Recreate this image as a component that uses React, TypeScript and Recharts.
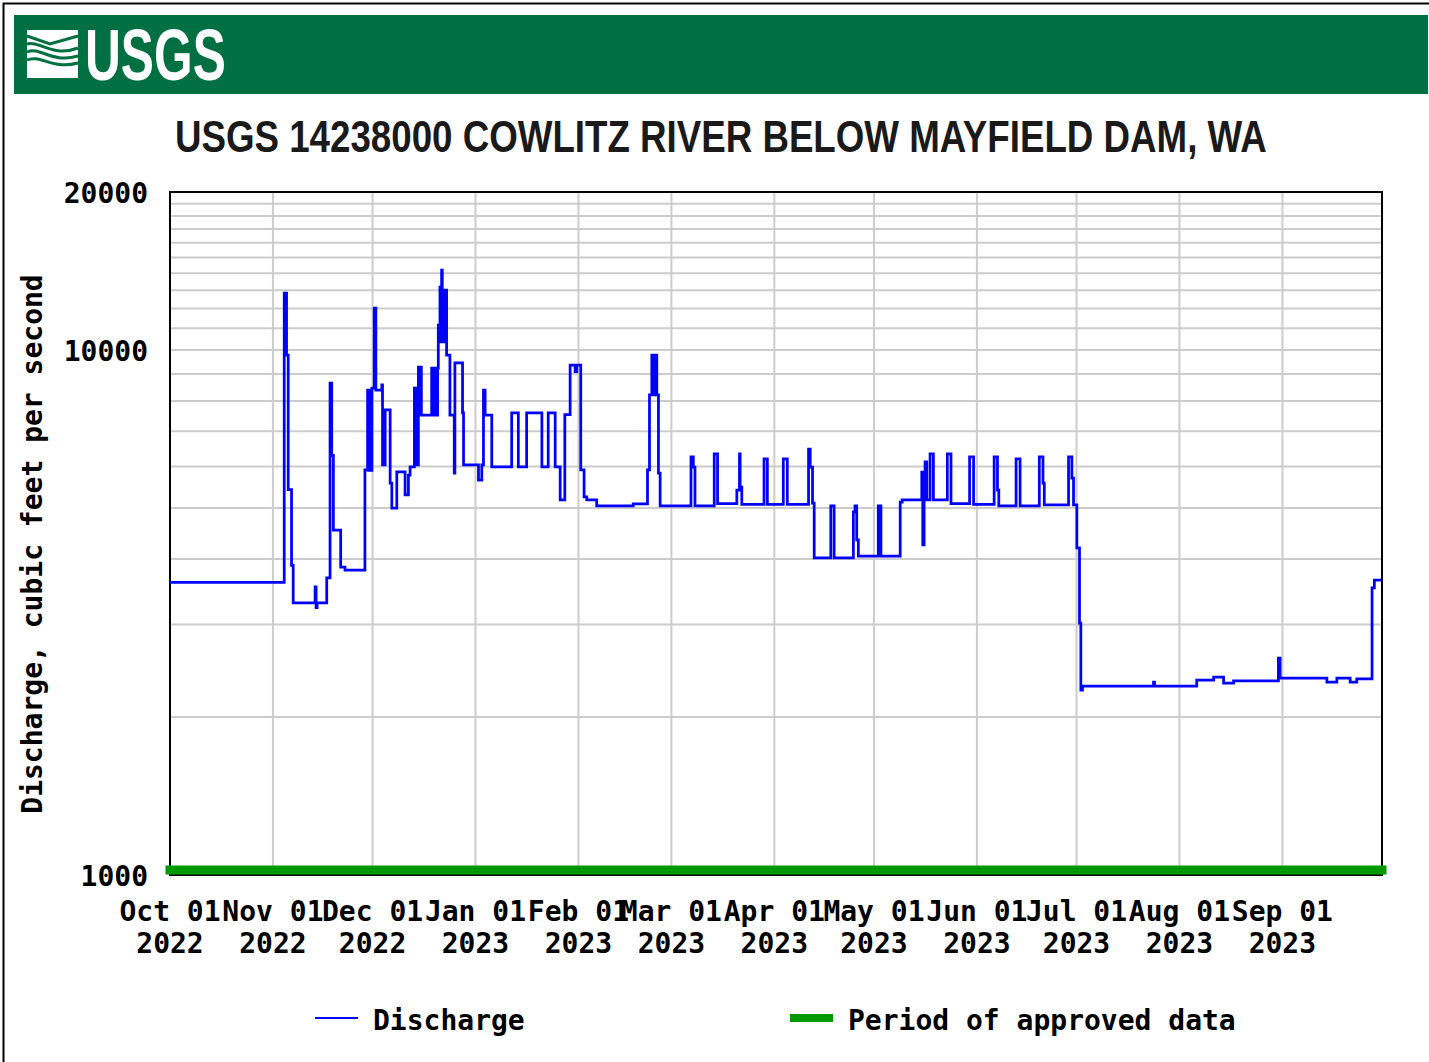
import React from "react";
import { LineChart, Line, XAxis, YAxis, CartesianGrid, ReferenceArea, Legend } from "recharts";

// days since 01 Oct 2022 at each month start
const monthTicks = [0, 31, 61, 92, 123, 151, 182, 212, 243, 273, 304, 335, 365];
const monthNames = ["Oct", "Nov", "Dec", "Jan", "Feb", "Mar", "Apr", "May", "Jun", "Jul", "Aug", "Sep"];
const monthYears = ["2022", "2022", "2022", "2023", "2023", "2023", "2023", "2023", "2023", "2023", "2023", "2023"];

const gridValues = [
  1000, 2000, 3000, 4000, 5000, 6000, 7000, 8000, 9000, 10000,
  11000, 12000, 13000, 14000, 15000, 16000, 17000, 18000, 19000, 20000,
];
const labelledValues = [1000, 10000, 20000];

// discharge trace (day since 01 Oct 2022, cfs)
const dischargeDay = [
  0, 34.4, 35.1, 35.6, 36.6, 37.1, 43.7, 44.0, 44.3, 47.2, 48.2, 48.7, 49.2, 51.4, 52.7,
  58.7, 59.5, 59.8, 60.1, 60.4, 60.8, 61.5, 62.0, 63.8, 64.0, 64.8, 66.3, 66.8, 68.3, 70.8,
  71.8, 72.3, 73.6, 73.9, 74.2, 74.5, 74.8, 75.1, 75.4, 75.7, 78.8, 79.1, 79.4, 79.7, 80.0,
  80.3, 80.6, 80.8, 81.3, 81.6, 81.8, 82.0, 82.3, 82.6, 83.0, 83.3, 84.3, 85.6, 85.8, 88.1,
  88.4, 92.9, 93.9, 94.4, 94.9, 96.9, 102.9, 104.9, 107.4, 112.0, 113.9, 116.0, 117.5, 118.9,
  120.5, 122.0, 122.5, 123.7, 124.7, 125.5, 128.5, 139.5, 143.8, 144.4, 145.1, 145.4, 145.7,
  146.0, 146.3, 146.6, 147.1, 147.6, 156.9, 157.6, 158.1, 163.9, 164.9, 170.7, 171.5, 171.7,
  172.2, 178.9, 179.9, 184.7, 185.9, 192.3, 192.8, 193.5, 194.0, 199.0, 200.0, 205.8, 206.3,
  206.8, 207.3, 213.3, 214.1, 219.9, 220.5, 226.4, 226.7, 227.1, 227.4, 227.9, 228.9, 229.9,
  234.1, 235.2, 240.8, 242.0, 248.2, 249.2, 249.6, 254.8, 256.0, 261.8, 262.9, 263.3, 270.6,
  271.6, 272.1, 273.1, 273.9, 274.3, 274.8, 296.2, 296.5, 309.2, 314.3, 317.3, 320.3, 333.8,
  334.3, 348.4, 351.4, 355.4, 357.4, 362.0, 362.7, 365,
];
const dischargeCfs = [
  3610, 12840, 9780, 5420, 3890, 3300, 3540, 3230, 3300, 3680, 8650, 6300, 4540, 3860, 3810,
  5910, 8390, 5900, 8390, 5900, 8460, 12020, 8390, 8580, 6040, 7690, 5580, 5000, 5860, 5300,
  5780, 5990, 8460, 6040, 8460, 6040, 9280, 7520, 9280, 7520, 9240, 7520, 9240, 7520, 9240,
  7520, 9240, 11160, 13180, 10360, 14200, 10360, 13000, 10360, 13000, 9780, 7520, 5830, 9450, 7590,
  6040, 5650, 6040, 8390, 7520, 5990, 7590, 5990, 7590, 5990, 7590, 5990, 5180, 7530,
  9360, 9100, 9360, 5910, 5250, 5180, 5046, 5090, 5910, 8210, 9780, 8210, 9780,
  8210, 9780, 8210, 5830, 5046, 6256, 5986, 5046, 6339, 5100, 5412, 6339, 5483,
  5080, 6201, 5080, 6201, 5080, 6478, 5986, 5112, 4017, 5046, 4017, 4915, 5046,
  4347, 4050, 5046, 4050, 5134, 5180, 5856, 4253, 5180, 6120, 5180, 6339, 5180,
  6339, 5100, 6256, 5080, 6256, 5412, 5046, 6201, 5046, 6256, 5580, 5068, 6256,
  5700, 5068, 4197, 3020, 2250, 2290, 2330, 2290, 2350, 2383, 2321, 2342, 2590,
  2372, 2330, 2372, 2330, 2365, 3522, 3647, 3647,
];

// approved-data bar along the bottom of the plot
const approvedDay = [0, 365];
const approvedCfs = [1022, 1022];

const discharge = dischargeDay.map((d, i) => ({ day: d, cfs: dischargeCfs[i] }));
const approved = approvedDay.map((d, i) => ({ day: d, approved: approvedCfs[i] }));

const MONO = '"DejaVu Sans Mono", "Liberation Mono", monospace';
const SANS = '"Liberation Sans", Arial, sans-serif';

function MonthTick(props: any) {
  const { x, y, payload } = props;
  const i = monthTicks.indexOf(payload.value);
  if (i < 0 || i >= monthNames.length) return <g />;
  return (
    <g fontFamily={MONO} fontWeight="bold" fontSize={28} fill="#000">
      <text x={x} y={y + 38} textAnchor="middle">{`${monthNames[i]} 01`}</text>
      <text x={x} y={y + 70} textAnchor="middle">{monthYears[i]}</text>
    </g>
  );
}

function CfsTick(props: any) {
  const { x, y, payload } = props;
  if (!labelledValues.includes(payload.value)) return <g />;
  return (
    <text x={x - 14} y={y + 11} textAnchor="end" fontFamily={MONO} fontWeight="bold" fontSize={28} fill="#000">
      {payload.value}
    </text>
  );
}

function LegendBox() {
  return (
    <svg width={1429} height={60} style={{ display: "block" }}>
      <line x1={315} x2={358} y1={28} y2={28} stroke="#0000ff" strokeWidth={2} />
      <text x={373} y={40} fontFamily={MONO} fontWeight="bold" fontSize={28} fill="#000">Discharge</text>
      <line x1={790} x2={833} y1={28} y2={28} stroke="#009900" strokeWidth={8} />
      <text x={848} y={40} fontFamily={MONO} fontWeight="bold" fontSize={28} fill="#000">Period of approved data</text>
    </svg>
  );
}

function Header() {
  return (
    <svg width={1429} height={1062} style={{ position: "absolute", left: 0, top: 0 }}>
      <rect x={3.5} y={3.5} width={1440} height={1070} fill="#fff" stroke="#000" strokeWidth={2} />
      <rect x={14} y={15} width={1414} height={79} fill="#006f41" />
      <g>
        <rect x={27} y={30} width={51} height={48} fill="#fff" />
        <path d="M27,36 L50,44 L78,36" stroke="#006f41" strokeWidth={3} fill="none" />
        <path d="M27,44 C40,40 52,58 78,48" stroke="#006f41" strokeWidth={3} fill="none" />
        <path d="M27,52 C40,46 52,64 78,56" stroke="#006f41" strokeWidth={3} fill="none" />
        <path d="M27,60 C40,54 52,70 78,63" stroke="#006f41" strokeWidth={3} fill="none" />
      </g>
      <text transform="translate(85,80) scale(0.69,1)" fontFamily={SANS} fontWeight="bold" fontSize={72} fill="#fff">
        USGS
      </text>
      <text transform="translate(175,152) scale(0.816,1)" fontFamily={SANS} fontWeight="bold" fontSize={45} fill="#1a1a1a">
        USGS 14238000 COWLITZ RIVER BELOW MAYFIELD DAM, WA
      </text>
      <text transform="translate(42,544) rotate(-90)" textAnchor="middle" fontFamily={MONO} fontWeight="bold" fontSize={28} fill="#000">
        Discharge, cubic feet per second
      </text>
    </svg>
  );
}

export default function App() {
  return (
    <div style={{ position: "absolute", left: 0, top: 0, width: 1429, height: 1062, background: "#fff", overflow: "hidden" }}>
      <Header />
      <div style={{ position: "absolute", left: 0, top: 0 }}>
        <LineChart width={1429} height={1062} data={discharge} margin={{ top: 192, right: 47, bottom: 107, left: 10 }}>
          <CartesianGrid stroke="#cccccc" strokeWidth={2} />
          <XAxis
            dataKey="day"
            type="number"
            domain={[0, 365]}
            ticks={monthTicks}
            interval={0}
            tick={<MonthTick />}
            tickLine={false}
            axisLine={false}
            height={80}
          />
          <YAxis
            scale="log"
            domain={[1000, 20000]}
            ticks={gridValues}
            interval={0}
            tick={<CfsTick />}
            tickLine={false}
            axisLine={false}
            width={160}
          />
          <ReferenceArea x1={0} x2={365} y1={1000} y2={20000} fill="none" stroke="#000" strokeWidth={2} ifOverflow="visible" />
          <Line
            data={approved}
            dataKey="approved"
            stroke="#009900"
            strokeWidth={9}
            strokeLinecap="square"
            dot={false}
            isAnimationActive={false}
          />
          <Line
            type="stepAfter"
            dataKey="cfs"
            stroke="#0000ff"
            strokeWidth={2.75}
            dot={false}
            isAnimationActive={false}
          />
          <Legend
            verticalAlign="middle"
            content={() => <LegendBox />}
            wrapperStyle={{ position: "absolute", top: 990, left: 0, width: 1429 }}
          />
        </LineChart>
      </div>
    </div>
  );
}
